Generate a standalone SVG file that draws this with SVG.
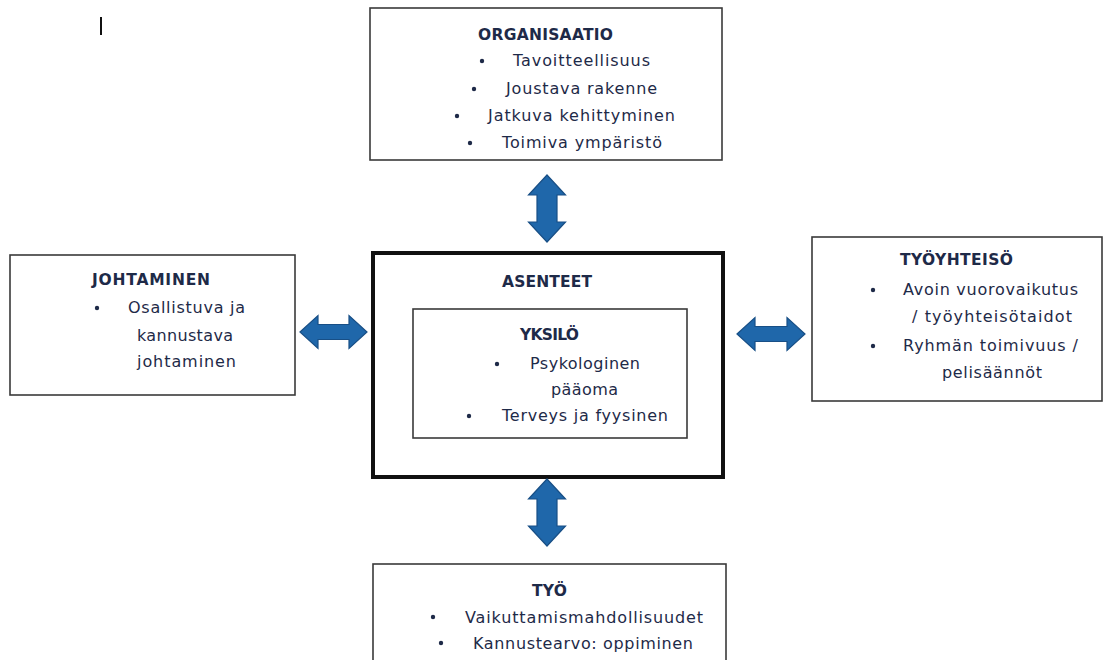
<svg xmlns="http://www.w3.org/2000/svg" width="1104" height="660" viewBox="0 0 1104 660">
<defs>
<style>
.box{fill:#fff;stroke:#3a3a3a;stroke-width:1.6}
.thick{fill:#fff;stroke:#111;stroke-width:4}
.h{font-family:"DejaVu Sans",sans-serif;font-size:15.5px;font-weight:bold;fill:#1e2a48}
.t{font-family:"DejaVu Sans",sans-serif;font-size:16px;fill:#1e2a48}
.b{fill:#1e2a48}
.arr{fill:#1f67aa;stroke:#184f86;stroke-width:1.2}
</style>
</defs>
<rect x="0" y="0" width="1104" height="660" fill="#fff"/>
<line x1="101" y1="17" x2="101" y2="35" stroke="#111" stroke-width="2"/>

<g id="organisaatio">
<rect class="box" x="370" y="8" width="352" height="152"/>
<text class="h" x="478" y="40" textLength="135" lengthAdjust="spacing">ORGANISAATIO</text>
<circle class="b" cx="482" cy="61" r="2.2"/>
<text class="t" x="513" y="66" textLength="137" lengthAdjust="spacing">Tavoitteellisuus</text>
<circle class="b" cx="474" cy="89" r="2.2"/>
<text class="t" x="506" y="94" textLength="151" lengthAdjust="spacing">Joustava rakenne</text>
<circle class="b" cx="457" cy="116" r="2.2"/>
<text class="t" x="488" y="121" textLength="187" lengthAdjust="spacing">Jatkuva kehittyminen</text>
<circle class="b" cx="470" cy="143" r="2.2"/>
<text class="t" x="502" y="148" textLength="160" lengthAdjust="spacing">Toimiva ympäristö</text>
</g>

<g id="johtaminen">
<rect class="box" x="10" y="255" width="285" height="140"/>
<text class="h" x="92" y="285" textLength="118" lengthAdjust="spacing">JOHTAMINEN</text>
<circle class="b" cx="97" cy="308" r="2.2"/>
<text class="t" x="128" y="313" textLength="117" lengthAdjust="spacing">Osallistuva ja</text>
<text class="t" x="137" y="341" textLength="96" lengthAdjust="spacing">kannustava</text>
<text class="t" x="137" y="367" textLength="99" lengthAdjust="spacing">johtaminen</text>
</g>

<g id="asenteet">
<rect class="thick" x="373" y="253" width="350" height="224"/>
<text class="h" x="502" y="287" textLength="90" lengthAdjust="spacing">ASENTEET</text>
</g>

<g id="yksilo">
<rect class="box" x="413" y="309" width="274" height="129"/>
<text class="h" x="520" y="340" textLength="59" lengthAdjust="spacing">YKSILÖ</text>
<circle class="b" cx="497" cy="364" r="2.2"/>
<text class="t" x="530" y="369" textLength="110" lengthAdjust="spacing">Psykologinen</text>
<text class="t" x="551" y="395" textLength="67" lengthAdjust="spacing">pääoma</text>
<circle class="b" cx="469" cy="416" r="2.2"/>
<text class="t" x="502" y="421" textLength="166" lengthAdjust="spacing">Terveys ja fyysinen</text>
</g>

<g id="tyoyhteiso">
<rect class="box" x="812" y="237" width="290" height="164"/>
<text class="h" x="900" y="265" textLength="113" lengthAdjust="spacing">TYÖYHTEISÖ</text>
<circle class="b" cx="873" cy="290" r="2.2"/>
<text class="t" x="903" y="295" textLength="175" lengthAdjust="spacing">Avoin vuorovaikutus</text>
<text class="t" x="912" y="322" textLength="160" lengthAdjust="spacing">/ työyhteisötaidot</text>
<circle class="b" cx="873" cy="346" r="2.2"/>
<text class="t" x="903" y="351" textLength="175" lengthAdjust="spacing">Ryhmän toimivuus /</text>
<text class="t" x="942" y="378" textLength="100" lengthAdjust="spacing">pelisäännöt</text>
</g>

<g id="tyo">
<rect class="box" x="373" y="564" width="353" height="110"/>
<text class="h" x="532" y="596" textLength="35" lengthAdjust="spacing">TYÖ</text>
<circle class="b" cx="433" cy="617" r="2.2"/>
<text class="t" x="465" y="623" textLength="238" lengthAdjust="spacing">Vaikuttamismahdollisuudet</text>
<circle class="b" cx="441" cy="643" r="2.2"/>
<text class="t" x="473" y="649" textLength="220" lengthAdjust="spacing">Kannustearvo: oppiminen</text>
</g>

<g id="connectors">
<polygon class="arr" points="547,175 565.5,195 557,195 557,222 565.5,222 547,242 528.5,222 537,222 537,195 528.5,195"/>
<polygon class="arr" points="547,479 565.5,499 557,499 557,526 565.5,526 547,546 528.5,526 537,526 537,499 528.5,499"/>
<polygon class="arr" points="300,332 318,315.5 318,324.5 349,324.5 349,315.5 367,332 349,348.5 349,339.5 318,339.5 318,348.5"/>
<polygon class="arr" points="737,334 755,317.5 755,326.5 787,326.5 787,317.5 805,334 787,350.5 787,341.5 755,341.5 755,350.5"/>
</g>
</svg>
